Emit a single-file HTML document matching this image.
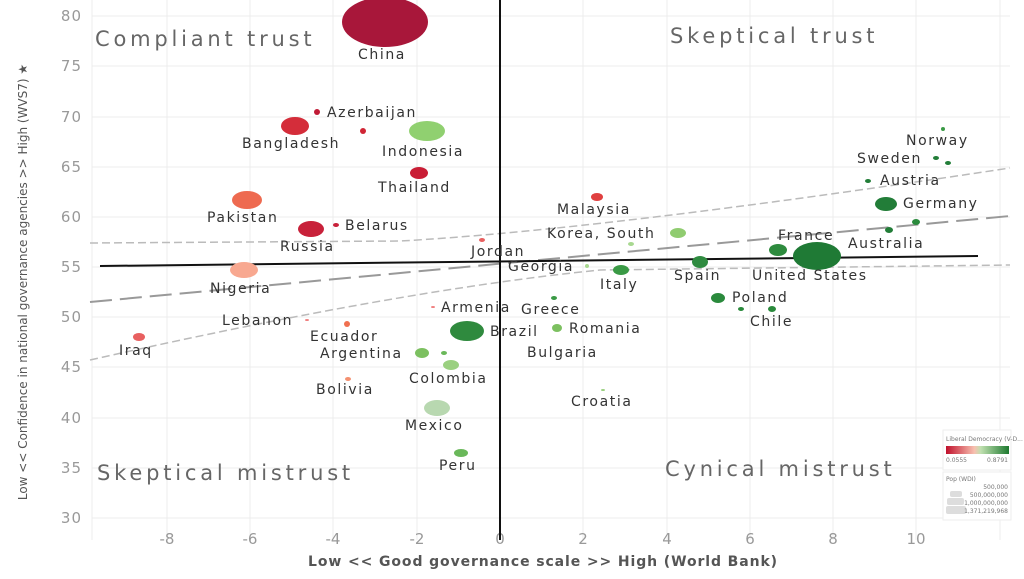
<!DOCTYPE html>
<html><head><meta charset="utf-8"><style>
body{margin:0;background:#fff}
svg text{font-family:"DejaVu Sans","Liberation Sans",sans-serif}
</style></head><body>
<svg width="1024" height="574" viewBox="0 0 1024 574" xmlns="http://www.w3.org/2000/svg">
<g stroke="#ececec" stroke-width="1">
<line x1="92" y1="0" x2="92" y2="540"/><line x1="167" y1="0" x2="167" y2="540"/><line x1="250" y1="0" x2="250" y2="540"/><line x1="333" y1="0" x2="333" y2="540"/><line x1="417" y1="0" x2="417" y2="540"/><line x1="583" y1="0" x2="583" y2="540"/><line x1="667" y1="0" x2="667" y2="540"/><line x1="750" y1="0" x2="750" y2="540"/><line x1="833" y1="0" x2="833" y2="540"/><line x1="916" y1="0" x2="916" y2="540"/><line x1="1000" y1="0" x2="1000" y2="540"/>
<line x1="92" y1="16" x2="1010" y2="16"/><line x1="92" y1="66" x2="1010" y2="66"/><line x1="92" y1="117" x2="1010" y2="117"/><line x1="92" y1="167" x2="1010" y2="167"/><line x1="92" y1="217" x2="1010" y2="217"/><line x1="92" y1="267" x2="1010" y2="267"/><line x1="92" y1="317" x2="1010" y2="317"/><line x1="92" y1="367" x2="1010" y2="367"/><line x1="92" y1="418" x2="1010" y2="418"/><line x1="92" y1="468" x2="1010" y2="468"/><line x1="92" y1="518" x2="1010" y2="518"/>
</g>
<g fill="#999" font-size="15" text-anchor="end" letter-spacing="1">
<text x="82" y="21">80</text><text x="82" y="71">75</text><text x="82" y="122">70</text><text x="82" y="172">65</text><text x="82" y="222">60</text><text x="82" y="272">55</text><text x="82" y="322">50</text><text x="82" y="372">45</text><text x="82" y="423">40</text><text x="82" y="473">35</text><text x="82" y="523">30</text>
</g>
<g fill="#999" font-size="15" text-anchor="middle">
<text x="167" y="544">-8</text><text x="250" y="544">-6</text><text x="333" y="544">-4</text><text x="417" y="544">-2</text><text x="500" y="544">0</text><text x="583" y="544">2</text><text x="667" y="544">4</text><text x="750" y="544">6</text><text x="833" y="544">8</text><text x="916" y="544">10</text>
</g>
<text x="543" y="566" font-size="14" font-weight="bold" fill="#555" text-anchor="middle" letter-spacing="0.9">Low &lt;&lt; Good governance scale &gt;&gt; High (World Bank)</text>
<text transform="translate(27,282) rotate(-90)" font-size="12" fill="#555" text-anchor="middle" font-family="Liberation Sans">Low &lt;&lt; Confidence in national governance agencies &gt;&gt; High (WVS7) ★</text>
<g font-size="21" fill="#666" letter-spacing="3.8">
<text x="95" y="46">Compliant trust</text><text x="670" y="43">Skeptical trust</text>
<text x="97" y="480">Skeptical mistrust</text><text x="665" y="476">Cynical mistrust</text>
</g>
<g fill="none" stroke="#bbb" stroke-width="1.5" stroke-dasharray="8,4">
<path d="M90,243 L400,241 Q600,230 1010,168"/>
<path d="M90,360 Q400,290 600,270 L1010,265"/>
</g>
<line x1="90" y1="302" x2="1010" y2="216" stroke="#999" stroke-width="2" stroke-dasharray="22,8"/>
<line x1="100" y1="266" x2="978" y2="256" stroke="#111" stroke-width="2"/>
<line x1="500" y1="0" x2="500" y2="540" stroke="#111" stroke-width="2"/>
<g>
<ellipse cx="385" cy="22" rx="43" ry="25" fill="#a8173a"/>
<ellipse cx="317" cy="112" rx="3" ry="3" fill="#c01a35"/>
<ellipse cx="295" cy="126" rx="14" ry="9" fill="#d42d3a"/>
<ellipse cx="363" cy="131" rx="3" ry="3" fill="#d02535"/>
<ellipse cx="427" cy="131" rx="18" ry="10" fill="#90d070"/>
<ellipse cx="419" cy="173" rx="9" ry="6" fill="#c91d35"/>
<ellipse cx="247" cy="200" rx="15" ry="9" fill="#ee6a50"/>
<ellipse cx="311" cy="229" rx="13" ry="8" fill="#c8213a"/>
<ellipse cx="336" cy="225" rx="3" ry="2" fill="#c8213a"/>
<ellipse cx="482" cy="240" rx="3" ry="2" fill="#e86060"/>
<ellipse cx="244" cy="270" rx="14" ry="8" fill="#f8a890"/>
<ellipse cx="597" cy="197" rx="6" ry="4" fill="#e04040"/>
<ellipse cx="678" cy="233" rx="8" ry="5" fill="#90cc70"/>
<ellipse cx="631" cy="244" rx="3" ry="2" fill="#a8d890"/>
<ellipse cx="778" cy="250" rx="9" ry="6" fill="#2e8b3e"/>
<ellipse cx="817" cy="256" rx="24" ry="14" fill="#1f7a35"/>
<ellipse cx="700" cy="262" rx="8" ry="6" fill="#2f8b40"/>
<ellipse cx="621" cy="270" rx="8" ry="5" fill="#3a9a45"/>
<ellipse cx="587" cy="266" rx="2" ry="2" fill="#a8d890"/>
<ellipse cx="889" cy="230" rx="4" ry="3" fill="#227d38"/>
<ellipse cx="886" cy="204" rx="11" ry="7" fill="#227d38"/>
<ellipse cx="916" cy="222" rx="4" ry="3" fill="#2a8a3c"/>
<ellipse cx="868" cy="181" rx="3" ry="2" fill="#227d38"/>
<ellipse cx="936" cy="158" rx="3" ry="2" fill="#227d38"/>
<ellipse cx="948" cy="163" rx="3" ry="2" fill="#227d38"/>
<ellipse cx="943" cy="129" rx="2" ry="2" fill="#3a9a45"/>
<ellipse cx="718" cy="298" rx="7" ry="5" fill="#2a8a3c"/>
<ellipse cx="741" cy="309" rx="3" ry="2" fill="#2a8a3c"/>
<ellipse cx="772" cy="309" rx="4" ry="3" fill="#2a8a3c"/>
<ellipse cx="554" cy="298" rx="3" ry="2" fill="#3a9a45"/>
<ellipse cx="557" cy="328" rx="5" ry="4" fill="#7cc060"/>
<ellipse cx="433" cy="307" rx="2" ry="1" fill="#f08080"/>
<ellipse cx="307" cy="320" rx="2" ry="1" fill="#f08080"/>
<ellipse cx="347" cy="324" rx="3" ry="3" fill="#f07050"/>
<ellipse cx="467" cy="331" rx="17" ry="10" fill="#2f8a3e"/>
<ellipse cx="422" cy="353" rx="7" ry="5" fill="#7cc060"/>
<ellipse cx="444" cy="353" rx="3" ry="2" fill="#6ab85a"/>
<ellipse cx="451" cy="365" rx="8" ry="5" fill="#9ad080"/>
<ellipse cx="139" cy="337" rx="6" ry="4" fill="#e86060"/>
<ellipse cx="348" cy="379" rx="3" ry="2" fill="#f49070"/>
<ellipse cx="437" cy="408" rx="13" ry="8" fill="#b8d8b0"/>
<ellipse cx="603" cy="390" rx="2" ry="1" fill="#9ad080"/>
<ellipse cx="461" cy="453" rx="7" ry="4" fill="#6ab85a"/>
</g>
<g font-size="14" fill="#333" letter-spacing="1.6">
<text x="358" y="59">China</text><text x="327" y="117">Azerbaijan</text>
<text x="242" y="148">Bangladesh</text><text x="382" y="156">Indonesia</text>
<text x="378" y="192">Thailand</text><text x="207" y="222">Pakistan</text>
<text x="345" y="230">Belarus</text><text x="280" y="251">Russia</text>
<text x="471" y="256">Jordan</text><text x="210" y="293">Nigeria</text>
<text x="557" y="214">Malaysia</text><text x="547" y="238">Korea, South</text>
<text x="778" y="240">France</text><text x="848" y="248">Australia</text>
<text x="906" y="145">Norway</text><text x="857" y="163">Sweden</text>
<text x="880" y="185">Austria</text><text x="903" y="208">Germany</text>
<text x="508" y="271">Georgia</text><text x="674" y="280">Spain</text>
<text x="752" y="280">United States</text><text x="600" y="289">Italy</text>
<text x="732" y="302">Poland</text><text x="750" y="326">Chile</text>
<text x="441" y="312">Armenia</text><text x="521" y="314">Greece</text>
<text x="222" y="325">Lebanon</text><text x="310" y="341">Ecuador</text>
<text x="490" y="336">Brazil</text><text x="569" y="333">Romania</text>
<text x="119" y="355">Iraq</text><text x="527" y="357">Bulgaria</text>
<text x="320" y="358">Argentina</text><text x="409" y="383">Colombia</text>
<text x="316" y="394">Bolivia</text><text x="571" y="406">Croatia</text>
<text x="405" y="430">Mexico</text><text x="439" y="470">Peru</text>
</g>
<g font-size="6" fill="#777">
<rect x="943" y="430" width="68" height="40" fill="#fff" stroke="#eee"/>
<text x="946" y="441">Liberal Democracy (V-D...</text>
<defs><linearGradient id="g"><stop offset="0" stop-color="#c0102c"/><stop offset="0.45" stop-color="#f8c0b0"/><stop offset="0.55" stop-color="#c0e0b0"/><stop offset="1" stop-color="#1e7a30"/></linearGradient></defs>
<rect x="946" y="446" width="63" height="8" fill="url(#g)"/>
<text x="946" y="462">0.0555</text><text x="1008" y="462" text-anchor="end">0.8791</text>
<rect x="943" y="472" width="68" height="48" fill="#fff" stroke="#eee"/>
<text x="946" y="481">Pop (WDI)</text>
<text x="1008" y="489" text-anchor="end">500,000</text>
<rect x="950" y="491" width="12" height="6" rx="2" fill="#ddd"/><text x="1008" y="497" text-anchor="end">500,000,000</text>
<rect x="947" y="498" width="17" height="7" rx="2" fill="#ddd"/><text x="1008" y="505" text-anchor="end">1,000,000,000</text>
<rect x="946" y="506" width="20" height="8" rx="2" fill="#ddd"/><text x="1008" y="513" text-anchor="end">1,371,219,968</text>
</g>
</svg>
</body></html>
